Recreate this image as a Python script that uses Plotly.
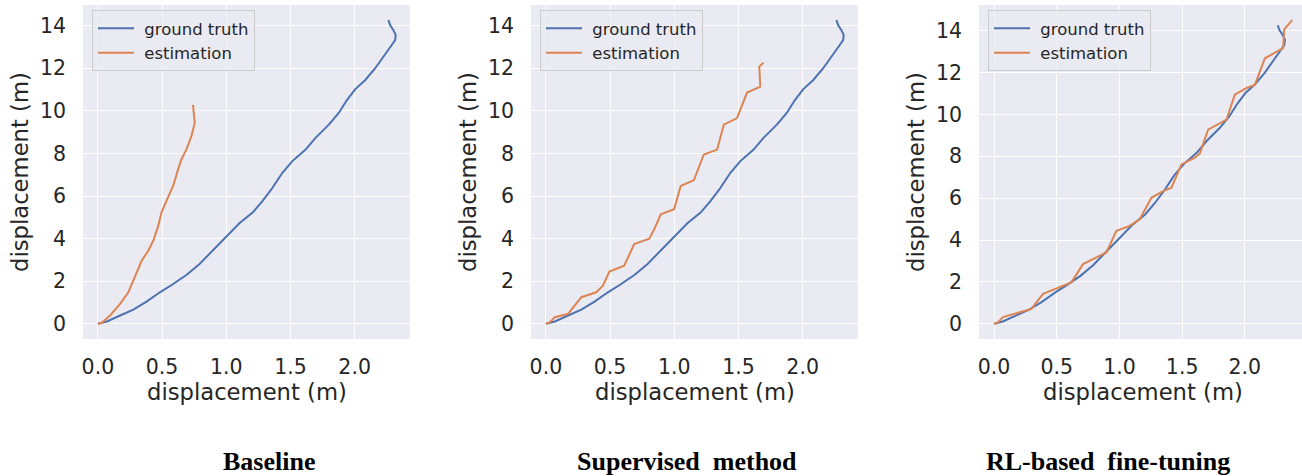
import plotly.graph_objects as go

W, H = 1302, 476

# ---------------- data ----------------
gt_x = [0.0, 0.070, 0.173, 0.276, 0.379, 0.483, 0.586, 0.689, 0.792, 0.895, 0.999, 1.102,
        1.205, 1.283, 1.360, 1.437, 1.515, 1.618, 1.695, 1.799, 1.876, 1.941, 2.005, 2.083,
        2.160, 2.237, 2.289, 2.315, 2.320, 2.302, 2.276, 2.263]
gt_y = [0.0, 0.11, 0.39, 0.67, 1.04, 1.48, 1.87, 2.29, 2.81, 3.43, 4.10, 4.72,
        5.22, 5.77, 6.39, 7.09, 7.64, 8.18, 8.73, 9.35, 9.90, 10.52, 11.02, 11.45,
        12.00, 12.62, 13.09, 13.32, 13.56, 13.79, 14.03, 14.26]

base_x = [0.0, 0.031, 0.095, 0.173, 0.237, 0.289, 0.341, 0.392, 0.431, 0.470, 0.495, 0.534,
          0.586, 0.625, 0.650, 0.689, 0.728, 0.754, 0.746, 0.741]
base_y = [0.0, 0.05, 0.39, 0.94, 1.48, 2.18, 2.96, 3.43, 3.90, 4.60, 5.22, 5.77,
          6.47, 7.25, 7.71, 8.18, 8.80, 9.43, 9.90, 10.28]

sup_x = [0.0, 0.031, 0.070, 0.173, 0.276, 0.392, 0.444, 0.495, 0.610, 0.688, 0.805, 0.844,
         0.895, 0.999, 1.050, 1.153, 1.230, 1.334, 1.386, 1.489, 1.567, 1.670, 1.662, 1.695]
sup_y = [0.0, 0.08, 0.31, 0.47, 1.25, 1.48, 1.79, 2.45, 2.73, 3.74, 4.00, 4.44,
         5.14, 5.38, 6.47, 6.75, 7.95, 8.18, 9.35, 9.66, 10.86, 11.14, 12.08, 12.26]

rl_x = [0.0, 0.032, 0.072, 0.258, 0.298, 0.391, 0.524, 0.617, 0.710, 0.790, 0.896, 0.976,
        1.082, 1.162, 1.255, 1.348, 1.415, 1.495, 1.601, 1.641, 1.707, 1.854, 1.920, 2.013,
        2.080, 2.160, 2.306, 2.314, 2.378]
rl_y = [0.0, 0.08, 0.32, 0.63, 0.71, 1.43, 1.74, 1.98, 2.85, 3.09, 3.41, 4.44,
        4.68, 4.99, 6.02, 6.34, 6.50, 7.61, 7.93, 8.13, 9.27, 9.75, 10.94, 11.26,
        11.41, 12.68, 13.16, 14.06, 14.50]

captions = ["Baseline", "Supervised&nbsp; method", "RL-based&nbsp; fine-tuning"]
series_names = ["ground truth", "estimation"]
x_ticks = [0.0, 0.5, 1.0, 1.5, 2.0]
x_tick_text = ["0.0", "0.5", "1.0", "1.5", "2.0"]
y_ticks = [0, 2, 4, 6, 8, 10, 12, 14]
axis_label = "displacement (m)"

# ---------------- style ----------------
BLUE = "#4C72B0"
ORANGE = "#DD8452"
BG = "#EAEAF2"
TXT = "#262626"
FONT = "DejaVu Sans"


def px(x):
    return x / W


def py(y):
    return 1 - y / H


# pixel geometry of the three plot areas
panels = [
    dict(l=83, r=410, x_range=[-0.116, 2.431], y_range=[-0.713, 14.97], est=(base_x, base_y), xc=246.5),
    dict(l=531, r=858, x_range=[-0.116, 2.431], y_range=[-0.713, 14.97], est=(sup_x, sup_y), xc=694.5),
    dict(l=979, r=1302, x_range=[-0.12, 2.456], y_range=[-0.725, 15.225], est=(rl_x, rl_y), xc=1142.5),
]
TOP, BOT = 5, 339
cap_centers = [269, 687, 1108]

fig = go.Figure()
annotations = []
layout_axes = {}
for i, p in enumerate(panels):
    n = "" if i == 0 else str(i + 1)
    leg = "legend" if i == 0 else f"legend{i + 1}"
    xa, ya = f"x{n}", f"y{n}"
    fig.add_trace(go.Scatter(x=gt_x, y=gt_y, mode="lines", name="\u00a0" + series_names[0],
                             line=dict(color=BLUE, width=2), xaxis=xa, yaxis=ya, legend=leg))
    fig.add_trace(go.Scatter(x=p["est"][0], y=p["est"][1], mode="lines", name="\u00a0" + series_names[1],
                             line=dict(color=ORANGE, width=2), xaxis=xa, yaxis=ya, legend=leg))
    common = dict(showgrid=True, gridcolor="white", gridwidth=1.3, zeroline=False,
                  showline=False, ticks="", tickfont=dict(family=FONT, size=20.5, color=TXT))
    layout_axes[f"xaxis{n}"] = dict(domain=[px(p["l"]), px(p["r"])], range=p["x_range"],
                                    tickvals=x_ticks, ticktext=x_tick_text,
                                    anchor=ya, ticklabelstandoff=13, **common)
    layout_axes[f"yaxis{n}"] = dict(domain=[py(BOT), py(TOP)], range=p["y_range"],
                                    tickvals=y_ticks, anchor=xa, ticklabelstandoff=16, **common)
    layout_axes[leg] = dict(x=px(p["l"] + 9), y=py(10), xanchor="left", yanchor="top",
                            bgcolor="rgba(234,234,242,0.8)", bordercolor="#cccccc", borderwidth=1,
                            font=dict(family=FONT, size=16.5, color=TXT), tracegroupgap=0,
                            itemwidth=36)
    annotations.append(dict(text=axis_label, x=px(p["xc"]), y=py(392), xref="paper", yref="paper",
                            showarrow=False, xanchor="center", yanchor="middle",
                            font=dict(family=FONT, size=22.7, color=TXT)))
    annotations.append(dict(text=axis_label, x=px(p["l"] - 63), y=py((TOP + BOT) / 2),
                            xref="paper", yref="paper", textangle=-90,
                            showarrow=False, xanchor="center", yanchor="middle",
                            font=dict(family=FONT, size=22.7, color=TXT)))
    annotations.append(dict(text=f"<b>{captions[i]}</b>", x=px(cap_centers[i]), y=py(461),
                            xref="paper", yref="paper", showarrow=False,
                            xanchor="center", yanchor="middle",
                            font=dict(family="Liberation Serif", size=26, color="#000000")))

fig.update_layout(
    width=W, height=H,
    margin=dict(l=0, r=0, t=0, b=0, pad=0, autoexpand=False),
    paper_bgcolor="white", plot_bgcolor=BG,
    showlegend=True,
    annotations=annotations,
    **layout_axes,
)

fig.write_html("out.html", config={"displayModeBar": False},
               post_script="document.body.style.margin='0';document.body.style.overflow='hidden';")
